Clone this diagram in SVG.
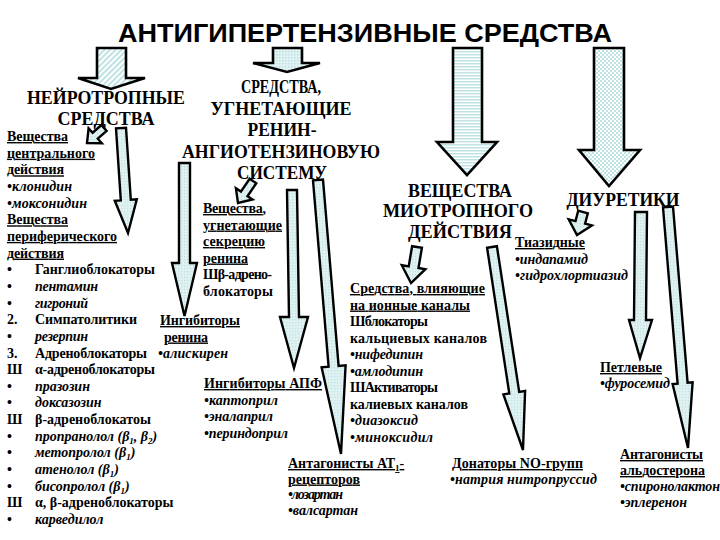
<svg xmlns="http://www.w3.org/2000/svg" width="720" height="540" viewBox="0 0 720 540">
<style>
.ti{font-family:"Liberation Sans",Arial,sans-serif;font-weight:bold;font-size:25px;fill:#000}
.h{font-family:"Liberation Serif","Times New Roman",serif;font-weight:bold;font-size:19px;fill:#000}
.t{font-family:"Liberation Serif","Times New Roman",serif;font-weight:bold;font-size:14px;fill:#000}
.i{font-style:italic}
.u{text-decoration:underline}
.ar{stroke:#000;stroke-width:2.6;stroke-linejoin:miter}
.sl{fill:url(#pDot2);stroke:#000;stroke-width:2.4;stroke-linejoin:miter}
</style>
<defs>
<pattern id="pDiag" width="4" height="4" patternUnits="userSpaceOnUse" patternTransform="rotate(45)"><rect width="4" height="4" fill="#ffffff"/><rect width="2" height="4" fill="#bfe3e5"/></pattern>
<pattern id="pDot" width="3" height="3" patternUnits="userSpaceOnUse"><rect width="3" height="3" fill="#e3f3f3"/><rect width="1.5" height="1.5" fill="#b9dfe1"/></pattern>
<pattern id="pDot2" width="3" height="3" patternUnits="userSpaceOnUse"><rect width="3" height="3" fill="#dff1f1"/><rect x="1" y="1" width="1.2" height="1.2" fill="#bfe2e4"/></pattern>
<pattern id="pHor" width="4" height="3" patternUnits="userSpaceOnUse"><rect width="4" height="3" fill="#ffffff"/><rect width="4" height="1.5" fill="#bfe3e5"/></pattern>
<pattern id="pChk" width="4" height="4" patternUnits="userSpaceOnUse"><rect width="4" height="4" fill="#ffffff"/><rect width="2" height="2" fill="#bfe3e5"/><rect x="2" y="2" width="2" height="2" fill="#bfe3e5"/></pattern>
</defs>
<rect width="720" height="540" fill="#ffffff"/>

<g id="title"><text class="ti" x="118" y="42" textLength="494" lengthAdjust="spacingAndGlyphs">АНТИГИПЕРТЕНЗИВНЫЕ СРЕДСТВА</text></g>

<g id="connectors">
<polygon class="ar" fill="url(#pDiag)" points="97,48 126,48 126,78 145,78 111,89 78,78 97,78"/>
<polygon class="ar" fill="url(#pDot)" points="273,48 302,48 302,63 320,63 287,72 253,63 273,63"/>
<polygon class="ar" fill="url(#pHor)" points="453,48 482,48 482,142 497,142 467,175 437,142 453,142"/>
<polygon class="ar" fill="url(#pChk)" points="594,48 624,48 624,150 640,150 609,186 579,150 594,150"/>
<polygon class="sl" points="101.4,125 92.6,132.7 88.6,128.2 87,143 101.8,143.2 97.8,138.7 106.6,131"/>
<polygon class="sl" points="126,127.7 130.8,199.8 136.8,199.4 128,233 114.8,200.8 120.8,200.4 116,128.3"/>
<polygon class="sl" points="179,163 190,163 190,263 197,263 184.5,316 172,263 179,263"/>
<polygon class="sl" points="249.7,178.7 240.9,191.6 235.9,188.3 238,203 252.5,199.5 247.5,196.2 256.3,183.3"/>
<polygon class="sl" points="287,190 297,190 299,317 308,317 294,368 280,317 289,317"/>
<polygon class="sl" points="323,179.6 338.6,365.9 345.6,365.3 341,454 321.6,367.3 328.6,366.7 313,180.4"/>
<polygon class="sl" points="412.1,246.2 408.7,266.4 401.8,265.2 411,283 425.4,269.2 418.5,268 421.9,247.8"/>
<polygon class="sl" points="496.9,246.2 519.2,391.9 525.1,391 523,450 503.4,394.4 509.3,393.5 487.1,247.8"/>
<polygon class="sl" points="578.2,210.7 575.5,221.1 568.7,219.4 577,235 591.9,225.4 585.1,223.7 587.8,213.3"/>
<polygon class="sl" points="635,212 647,212 646,320 652,320 640,358 629,320 634,320"/>
<polygon class="sl" points="673,206.6 687.6,382.8 692.6,382.4 688,448 672.6,384 677.6,383.6 663,207.4"/>
</g>

<g id="neurotropic">
<text class="h" x="106" y="104" text-anchor="middle" textLength="158" lengthAdjust="spacingAndGlyphs">НЕЙРОТРОПНЫЕ</text>
<text class="h" x="106" y="125" text-anchor="middle" textLength="97" lengthAdjust="spacingAndGlyphs">СРЕДСТВА</text>
</g>

<g id="neuro-list" class="t">
<text class="u" x="7" y="141" textLength="61">Вещества</text>
<text class="u" x="7" y="157.7" textLength="88">центрального</text>
<text class="u" x="7" y="174.3" textLength="57">действия</text>
<text class="i" x="7" y="191" textLength="65">•клонидин</text>
<text class="i" x="7" y="207.6" textLength="80">•моксонидин</text>
<text class="u" x="7" y="224.3" textLength="61">Вещества</text>
<text class="u" x="7" y="240.9" textLength="110">периферического</text>
<text class="u" x="7" y="257.6" textLength="57">действия</text>
<text x="7" y="274.2">•</text><text x="35" y="274.2" textLength="120">Ганглиоблокаторы</text>
<text x="7" y="290.9">•</text><text class="i" x="35" y="290.9" textLength="63">пентамин</text>
<text x="7" y="307.5">•</text><text class="i" x="35" y="307.5" textLength="53">гигроний</text>
<text x="7" y="324.2">2.</text><text x="35" y="324.2" textLength="102">Симпатолитики</text>
<text x="7" y="340.8">•</text><text class="i" x="35" y="340.8" textLength="53">резерпин</text>
<text x="7" y="357.5">3.</text><text x="35" y="357.5" textLength="112">Адреноблокаторы</text>
<text x="7" y="374.1">Ш</text><text x="35" y="374.1" textLength="120">α-адреноблокаторы</text>
<text x="7" y="390.8">•</text><text class="i" x="35" y="390.8">празозин</text>
<text x="7" y="407.4">•</text><text class="i" x="35" y="407.4">доксазозин</text>
<text x="7" y="424.1">Ш</text><text x="35" y="424.1">β-адреноблокатоы</text>
<text x="7" y="440.7">•</text><text class="i" x="35" y="440.7">пропранолол (β<tspan font-size="9" dy="3">1</tspan><tspan dy="-3">, β</tspan><tspan font-size="9" dy="3">2</tspan><tspan dy="-3">)</tspan></text>
<text x="7" y="457.4">•</text><text class="i" x="35" y="457.4">метопролол (β<tspan font-size="9" dy="3">1</tspan><tspan dy="-3">)</tspan></text>
<text x="7" y="474">•</text><text class="i" x="35" y="474">атенолол (β<tspan font-size="9" dy="3">1</tspan><tspan dy="-3">)</tspan></text>
<text x="7" y="490.7">•</text><text class="i" x="35" y="490.7">бисопролол (β<tspan font-size="9" dy="3">1</tspan><tspan dy="-3">)</tspan></text>
<text x="7" y="507.3">Ш</text><text x="35" y="507.3">α, β-адреноблокаторы</text>
<text x="7" y="524">•</text><text class="i" x="35" y="524">карведилол</text>
</g>

<g id="raas">
<text class="h" x="281" y="93" text-anchor="middle" textLength="80" lengthAdjust="spacingAndGlyphs">СРЕДСТВА,</text>
<text class="h" x="281" y="114.5" text-anchor="middle" textLength="141" lengthAdjust="spacingAndGlyphs">УГНЕТАЮЩИЕ</text>
<text class="h" x="282" y="136" text-anchor="middle" textLength="69" lengthAdjust="spacingAndGlyphs">РЕНИН-</text>
<text class="h" x="281" y="157.5" text-anchor="middle" textLength="198" lengthAdjust="spacingAndGlyphs">АНГИОТЕНЗИНОВУЮ</text>
<text class="h" x="282" y="179" text-anchor="middle" textLength="90" lengthAdjust="spacingAndGlyphs">СИСТЕМУ</text>
</g>

<g id="renin-secretion" class="t">
<text class="u" x="203" y="213" textLength="63">Вещества,</text>
<text class="u" x="203" y="229.5" textLength="79">угнетающие</text>
<text class="u" x="203" y="246" textLength="62">секрецию</text>
<text class="u" x="203" y="262.5" textLength="45">ренина</text>
<text x="203" y="279" textLength="69">Шβ-адрено-</text>
<text x="203" y="295.5" textLength="70">блокаторы</text>
</g>

<g id="renin-inhibitors" class="t">
<text class="u" x="160" y="325" textLength="80">Ингибиторы</text>
<text class="u" x="164" y="341.5" textLength="44">ренина</text>
<text class="i" x="158" y="358" textLength="70">•алискирен</text>
</g>

<g id="ace-inhibitors" class="t">
<text class="u" x="204" y="388" textLength="118">Ингибиторы АПФ</text>
<text class="i" x="204" y="404.5" textLength="74">•каптоприл</text>
<text class="i" x="204" y="421" textLength="69">•эналаприл</text>
<text class="i" x="204" y="437.5" textLength="84">•периндоприл</text>
</g>

<g id="at1-antagonists" class="t">
<text class="u" x="288" y="468">Антагонисты АТ<tspan font-size="9" dy="3">1</tspan><tspan dy="-3">-</tspan></text>
<text class="u" x="288" y="483.5" textLength="72">рецепторов</text>
<text class="i" x="288" y="499" textLength="55">•лозартан</text>
<text class="i" x="288" y="515" textLength="70">•валсартан</text>
</g>

<g id="myotropic">
<text class="h" x="460" y="197" text-anchor="middle" textLength="104" lengthAdjust="spacingAndGlyphs">ВЕЩЕСТВА</text>
<text class="h" x="458" y="217" text-anchor="middle" textLength="150" lengthAdjust="spacingAndGlyphs">МИОТРОПНОГО</text>
<text class="h" x="460" y="238" text-anchor="middle" textLength="104" lengthAdjust="spacingAndGlyphs">ДЕЙСТВИЯ</text>
</g>

<g id="ion-channels" class="t">
<text class="u" x="350" y="293" textLength="135">Средства, влияющие</text>
<text class="u" x="350" y="309.5" textLength="120">на ионные каналы</text>
<text x="350" y="326" textLength="78">Шблокаторы</text>
<text x="350" y="342.5" textLength="137">кальциевых каналов</text>
<text class="i" x="350" y="359" textLength="73">•нифедипин</text>
<text class="i" x="350" y="375.5" textLength="73">•амлодипин</text>
<text x="350" y="392" textLength="88">ШАктиваторы</text>
<text x="350" y="408.5" textLength="118">калиевых каналов</text>
<text class="i" x="350" y="425" textLength="68">•диазоксид</text>
<text class="i" x="350" y="441.5" textLength="83">•миноксидил</text>
</g>

<g id="no-donors" class="t">
<text class="u" x="452" y="468" textLength="131">Донаторы NO-групп</text>
<text class="i" x="450" y="483.5" textLength="147">•натрия нитропруссид</text>
</g>

<g id="diuretics">
<text class="h" x="623" y="206" text-anchor="middle" textLength="113" lengthAdjust="spacingAndGlyphs">ДИУРЕТИКИ</text>
</g>

<g id="thiazides" class="t">
<text class="u" x="515" y="247" textLength="70">Тиазидные</text>
<text class="i" x="515" y="263.5" textLength="73">•индапамид</text>
<text class="i" x="515" y="280" textLength="113">•гидрохлортиазид</text>
</g>

<g id="loop" class="t">
<text class="u" x="600" y="372" textLength="62">Петлевые</text>
<text class="i" x="600" y="388" textLength="70">•фуросемид</text>
</g>

<g id="aldosterone" class="t">
<text class="u" x="620" y="459" textLength="83">Антагонисты</text>
<text class="u" x="620" y="475" textLength="85">альдостерона</text>
<text class="i" x="620" y="491" textLength="100">•спиронолактон</text>
<text class="i" x="620" y="507" textLength="67">•эплеренон</text>
</g>
</svg>
